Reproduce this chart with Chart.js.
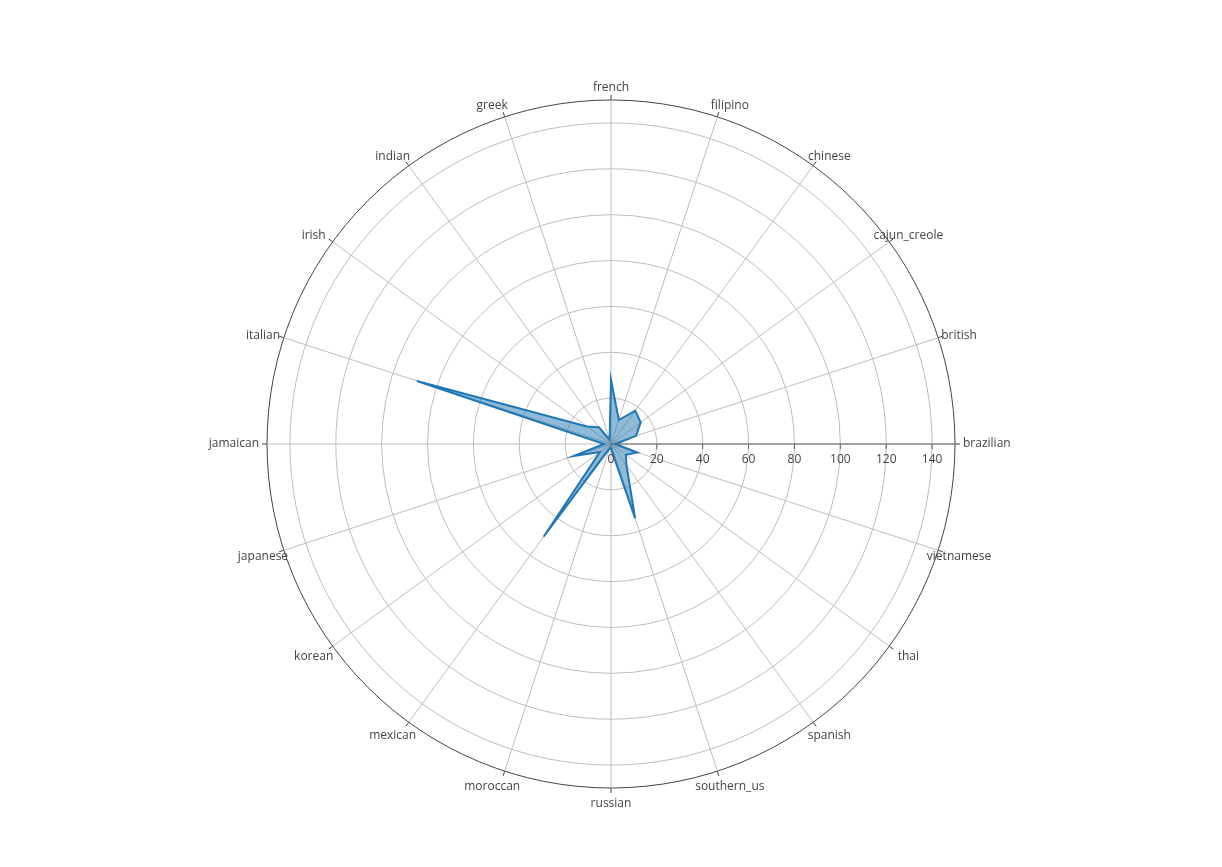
<!DOCTYPE html>
<html>
<head>
<meta charset="utf-8">
<script src="https://cdn.jsdelivr.net/npm/chart.js@4/dist/chart.umd.min.js"></script>
<style>
  html, body { margin: 0; padding: 0; background: #fff; }
  #wrap { width: 1222px; height: 867px; }
</style>
</head>
<body>
<div id="wrap"><canvas id="polarChart"></canvas></div>
<script>
// categories, counter-clockwise from east (as in the picture)
const categories = ['brazilian', 'british', 'cajun_creole', 'chinese', 'filipino', 'french', 'greek',
    'indian', 'irish', 'italian', 'jamaican', 'japanese', 'korean', 'mexican', 'moroccan', 'russian',
    'southern_us', 'spanish', 'thai', 'vietnamese'];
const counts = [2, 11.5, 16, 18, 11, 28, 2, 9, 13, 89, 3, 17, 6, 50, 2, 2, 34, 11.5, 8, 12];
const radialTicks = [0, 20, 40, 60, 80, 100, 120, 140];
const radialMax = 150;

// chart.js goes clockwise, so keep the first one and flip the rest
const order = [0].concat(categories.slice(1).map((c, i) => i + 1).reverse());
const labels = order.map(i => categories[i]);
const values = order.map(i => counts[i]);

const fontFamily = '"Open Sans", "DejaVu Sans", sans-serif';

// radial tick labels along the east axis, angular ticks and category labels
const axisDecor = {
    id: 'axisDecor',
    afterDraw(chart) {
        const s = chart.scales.r;
        const ctx = chart.ctx;
        const cx = s.xCenter, cy = s.yCenter;
        const R = s.drawingArea;
        ctx.save();

        // radial axis line
        ctx.strokeStyle = '#666';
        ctx.lineWidth = 1;
        ctx.beginPath();
        ctx.moveTo(cx, cy);
        ctx.lineTo(cx + s.getDistanceFromCenterForValue(radialMax), cy);
        ctx.stroke();

        ctx.fillStyle = '#444';
        ctx.font = '12px ' + fontFamily;
        ctx.textAlign = 'center';
        ctx.textBaseline = 'middle';
        radialTicks.forEach(v => {
            const x = cx + s.getDistanceFromCenterForValue(v);
            ctx.beginPath();
            ctx.moveTo(x, cy);
            ctx.lineTo(x, cy + 5);
            ctx.stroke();
            ctx.fillText(String(v), x, cy + 16);
        });

        // angular ticks outside the outer circle + labels
        ctx.strokeStyle = '#444';
        labels.forEach((l, i) => {
            const a = s.getPointPosition(i, R);
            const b = s.getPointPosition(i, R + 5);
            ctx.beginPath();
            ctx.moveTo(a.x, a.y);
            ctx.lineTo(b.x, b.y);
            ctx.stroke();

            const ang = s.getIndexAngle(i) - Math.PI / 2;
            const c = Math.cos(ang), sn = Math.sin(ang); // sn > 0 means lower half
            const p = s.getPointPosition(i, R + 13);
            const dy = 2 + (sn > 0 ? 1 : -1) * Math.abs(sn);
            if (Math.abs(c) > 0.99) {
                ctx.textAlign = c > 0 ? 'left' : 'right';
                ctx.fillText(l, cx + (c > 0 ? 1 : -1) * (R + 8), cy);
            } else {
                ctx.textAlign = 'center';
                const shift = Math.abs(c) < 0.01 ? 0 : (c > 0 ? 8.5 : -8.5);
                ctx.fillText(l, p.x + shift, p.y + dy);
            }
        });
        ctx.restore();
    }
};

const ctxPolar = document.getElementById('polarChart').getContext('2d');
const polarChart = new Chart(ctxPolar, {
    type: 'radar',
    data: {
        labels: labels,
        datasets: [{
            data: values,
            borderColor: '#1f77b4',
            backgroundColor: 'rgba(31, 119, 180, 0.5)',
            borderWidth: 2,
            pointRadius: 0,
            fill: true,
            tension: 0
        }]
    },
    options: {
        responsive: true,
        maintainAspectRatio: false,
        animation: false,
        layout: {
            padding: { top: 100, bottom: 79, left: 0, right: 0 }
        },
        plugins: {
            legend: { display: false },
            tooltip: { enabled: false }
        },
        scales: {
            r: {
                min: 0,
                max: radialMax,
                startAngle: 90,
                afterBuildTicks: function (scale) {
                    scale.ticks = radialTicks.concat([radialMax]).map(v => ({ value: v }));
                },
                ticks: { display: false },
                grid: {
                    circular: true,
                    color: function (context) {
                        return context.tick && context.tick.value === radialMax ? '#444' : '#bdbdbd';
                    },
                    lineWidth: 1
                },
                angleLines: {
                    color: '#bdbdbd',
                    lineWidth: 1
                },
                pointLabels: { display: false }
            }
        }
    },
    plugins: [axisDecor]
});
</script>
</body>
</html>
